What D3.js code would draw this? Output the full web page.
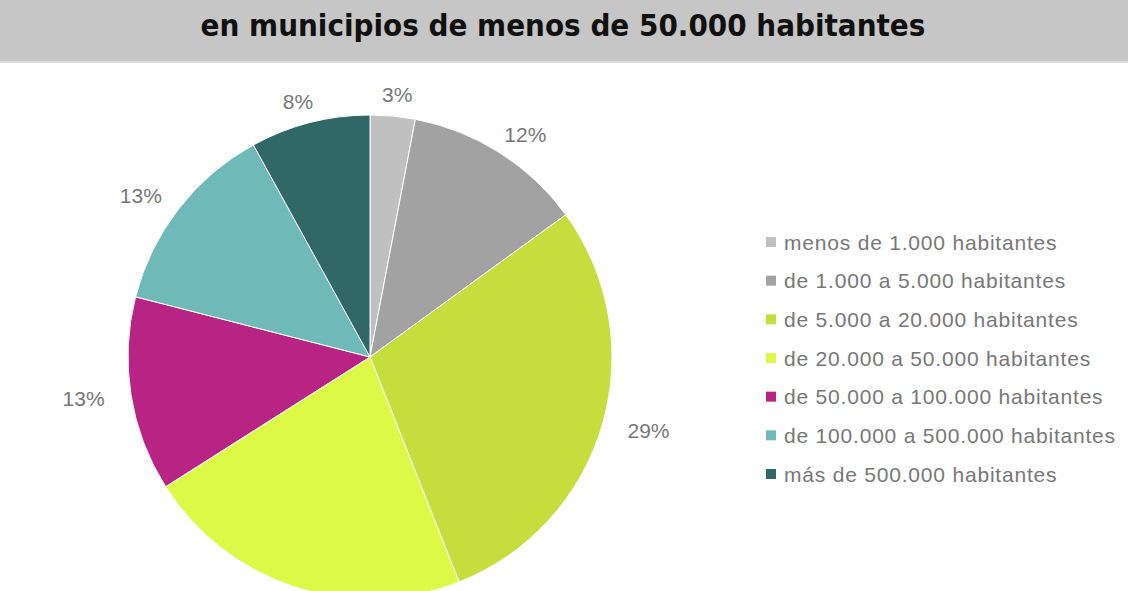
<!DOCTYPE html>
<html><head><meta charset="utf-8">
<script src="https://cdn.jsdelivr.net/npm/d3@7"></script>
<style>html,body{margin:0;padding:0;background:#fff;overflow:hidden}</style>
</head><body>
<svg id="chart" width="1128" height="591"></svg>
<script>
const categories = ["menos de 1.000 habitantes","de 1.000 a 5.000 habitantes","de 5.000 a 20.000 habitantes","de 20.000 a 50.000 habitantes","de 50.000 a 100.000 habitantes","de 100.000 a 500.000 habitantes","más de 500.000 habitantes"];
const values = [3, 12, 29, 22, 13, 13, 8];
const colors = ["#c0c0c0","#a2a2a2","#c5de3d","#ddf947","#b72483","#70b9b9","#306767"];
const titleText = "en municipios de menos de 50.000 habitantes";

const W = 1128, H = 591;
const svg = d3.select("#chart");
// title bar
svg.append("rect").attr("x",0).attr("y",0).attr("width",W).attr("height",61).attr("fill","#c6c6c6");
svg.append("rect").attr("x",0).attr("y",61).attr("width",W).attr("height",2).attr("fill","#dedede");
svg.append("text").attr("x",563).attr("y",36).attr("text-anchor","middle")
  .attr("font-family","'DejaVu Sans Condensed','Liberation Sans Narrow',sans-serif")
  .attr("font-weight","bold").attr("font-size",31).attr("fill","#111")
  .text(titleText);

const cx = 370, cy = 357, r = 242;
const pie = d3.pie().sort(null).value(d => d)(values);
const arc = d3.arc().innerRadius(0).outerRadius(r);
const g = svg.append("g").attr("transform",`translate(${cx},${cy})`);
g.selectAll("path").data(pie).join("path")
  .attr("d", arc).attr("fill", (d,i) => colors[i])
  .attr("stroke","#fff").attr("stroke-width",1);

const lblPos = d => {
  const a = (d.startAngle + d.endAngle) / 2;
  return [(r + 48) * Math.sin(a), -(r + 22) * Math.cos(a)];
};
// only labels that fall inside the visible frame (the reference crops the bottom one)
const visible = pie.filter(d => cy + lblPos(d)[1] + 8 < H);
g.selectAll("text.lbl").data(visible).join("text").attr("class","lbl")
  .attr("x", d => lblPos(d)[0])
  .attr("y", d => lblPos(d)[1] + 7.5)
  .attr("text-anchor","middle")
  .attr("font-family","'Liberation Sans',Arial,sans-serif").attr("font-size",21).attr("fill","#777")
  .text(d => d.data + "%");

const leg = svg.append("g");
const ly = d3.scalePoint().domain(categories).range([242, 474]);
const items = leg.selectAll("g").data(categories).join("g")
  .attr("transform", d => `translate(766,${ly(d)})`);
items.append("rect").attr("x",0).attr("y",-5).attr("width",10).attr("height",10)
  .attr("fill",(d,i)=>colors[i]);
items.append("text").attr("x",18).attr("y",7.5)
  .attr("font-family","'Liberation Sans',Arial,sans-serif").attr("font-size",21).attr("fill","#777")
  .attr("letter-spacing",0.8)
  .text(d => d);
</script>
</body></html>
